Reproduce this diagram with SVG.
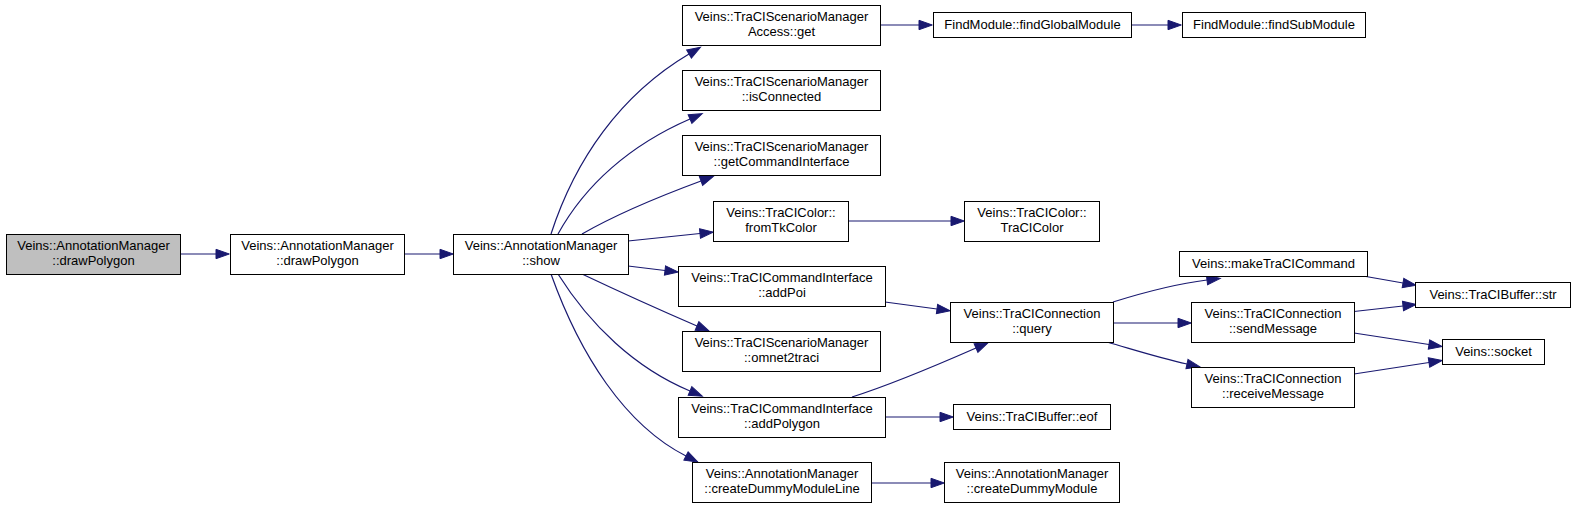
<svg xmlns="http://www.w3.org/2000/svg" width="1576" height="508" viewBox="0 0 1576 508">
<style>
.n rect{fill:#fff;stroke:#000;stroke-width:1}
.n.s rect{fill:#bfbfbf}
.n text{font-family:"Liberation Sans",Arial,sans-serif;font-size:13px;fill:#000;text-anchor:middle}
.e path{fill:none;stroke:#191970;stroke-width:1.2}
</style>
<defs>
<marker id="ah" markerUnits="userSpaceOnUse" markerWidth="14" markerHeight="10" refX="0" refY="4.7" orient="auto" overflow="visible">
<polygon points="0,0 13.3,4.7 0,9.4" fill="#191970" stroke="#191970" stroke-width="1"/>
</marker>
</defs>
<rect width="1576" height="508" fill="#fff"/>
<g id="edges" class="e">
<path marker-end="url(#ah)" d="M180,254 L216,254"/>
<path marker-end="url(#ah)" d="M404,254 L440,254"/>
<path marker-end="url(#ah)" d="M551,234 C575,160 620,95 689,54"/>
<path marker-end="url(#ah)" d="M558,234 C585,185 630,145 690,119"/>
<path marker-end="url(#ah)" d="M582,234 C615,215 655,198 701,181"/>
<path marker-end="url(#ah)" d="M628,241 L700,233.5"/>
<path marker-end="url(#ah)" d="M628,266 L665,270.5"/>
<path marker-end="url(#ah)" d="M582,274 C620,292 660,310 697,326"/>
<path marker-end="url(#ah)" d="M558,274 C590,325 635,368 690,391"/>
<path marker-end="url(#ah)" d="M551,274 C580,355 625,425 686,456"/>
<path marker-end="url(#ah)" d="M880,25 L919,25"/>
<path marker-end="url(#ah)" d="M1131,25 L1168,25"/>
<path marker-end="url(#ah)" d="M848,221 L951,221"/>
<path marker-end="url(#ah)" d="M885,302 L937,309"/>
<path marker-end="url(#ah)" d="M852,397 C890,385 935,366 976,348"/>
<path marker-end="url(#ah)" d="M885,417 L940,417"/>
<path marker-end="url(#ah)" d="M871,483 L931,483"/>
<path marker-end="url(#ah)" d="M1113,302 C1145,292 1175,284 1207,280"/>
<path marker-end="url(#ah)" d="M1113,323 L1178,323"/>
<path marker-end="url(#ah)" d="M1107,342 C1135,350 1160,358 1187,364"/>
<path marker-end="url(#ah)" d="M1366,276.5 L1403,283"/>
<path marker-end="url(#ah)" d="M1354,311.5 L1403,306"/>
<path marker-end="url(#ah)" d="M1354,333 L1429,344.5"/>
<path marker-end="url(#ah)" d="M1354,374 L1429,362.5"/>
</g>
<g id="node_start" class="n s"><rect x="6.5" y="234.5" width="174" height="40"/><text x="93.5" y="250">Veins::AnnotationManager</text><text x="93.5" y="265">::drawPolygon</text></g>
<g id="node_drawPolygon" class="n"><rect x="230.5" y="234.5" width="174" height="40"/><text x="317.5" y="250">Veins::AnnotationManager</text><text x="317.5" y="265">::drawPolygon</text></g>
<g id="node_show" class="n"><rect x="453.5" y="234.5" width="175" height="40"/><text x="541" y="250">Veins::AnnotationManager</text><text x="541" y="265">::show</text></g>
<g id="node_get" class="n"><rect x="682.5" y="5.5" width="198" height="40"/><text x="781.5" y="21">Veins::TraCIScenarioManager</text><text x="781.5" y="36">Access::get</text></g>
<g id="node_isConnected" class="n"><rect x="682.5" y="70.5" width="198" height="40"/><text x="781.5" y="86">Veins::TraCIScenarioManager</text><text x="781.5" y="101">::isConnected</text></g>
<g id="node_getCommandInterface" class="n"><rect x="682.5" y="135.5" width="198" height="40"/><text x="781.5" y="151">Veins::TraCIScenarioManager</text><text x="781.5" y="166">::getCommandInterface</text></g>
<g id="node_fromTkColor" class="n"><rect x="713.5" y="201.5" width="135" height="40"/><text x="781" y="217">Veins::TraCIColor::</text><text x="781" y="232">fromTkColor</text></g>
<g id="node_addPoi" class="n"><rect x="678.5" y="266.5" width="207" height="40"/><text x="782" y="282">Veins::TraCICommandInterface</text><text x="782" y="297">::addPoi</text></g>
<g id="node_omnet2traci" class="n"><rect x="682.5" y="331.5" width="198" height="40"/><text x="781.5" y="347">Veins::TraCIScenarioManager</text><text x="781.5" y="362">::omnet2traci</text></g>
<g id="node_addPolygon" class="n"><rect x="678.5" y="397.5" width="207" height="40"/><text x="782" y="413">Veins::TraCICommandInterface</text><text x="782" y="428">::addPolygon</text></g>
<g id="node_createDummyModuleLine" class="n"><rect x="692.5" y="462.5" width="179" height="40"/><text x="782" y="478">Veins::AnnotationManager</text><text x="782" y="493">::createDummyModuleLine</text></g>
<g id="node_findGlobalModule" class="n"><rect x="933.5" y="12.5" width="198" height="25"/><text x="1032.5" y="29">FindModule::findGlobalModule</text></g>
<g id="node_findSubModule" class="n"><rect x="1182.5" y="12.5" width="183" height="25"/><text x="1274" y="29">FindModule::findSubModule</text></g>
<g id="node_TraCIColor" class="n"><rect x="964.5" y="201.5" width="135" height="40"/><text x="1032" y="217">Veins::TraCIColor::</text><text x="1032" y="232">TraCIColor</text></g>
<g id="node_query" class="n"><rect x="950.5" y="302.5" width="163" height="40"/><text x="1032" y="318">Veins::TraCIConnection</text><text x="1032" y="333">::query</text></g>
<g id="node_eof" class="n"><rect x="953.5" y="404.5" width="157" height="25"/><text x="1032" y="421">Veins::TraCIBuffer::eof</text></g>
<g id="node_createDummyModule" class="n"><rect x="944.5" y="462.5" width="175" height="40"/><text x="1032" y="478">Veins::AnnotationManager</text><text x="1032" y="493">::createDummyModule</text></g>
<g id="node_makeTraCICommand" class="n"><rect x="1179.5" y="251.5" width="188" height="25"/><text x="1273.5" y="268">Veins::makeTraCICommand</text></g>
<g id="node_sendMessage" class="n"><rect x="1191.5" y="302.5" width="163" height="40"/><text x="1273" y="318">Veins::TraCIConnection</text><text x="1273" y="333">::sendMessage</text></g>
<g id="node_receiveMessage" class="n"><rect x="1191.5" y="367.5" width="163" height="40"/><text x="1273" y="383">Veins::TraCIConnection</text><text x="1273" y="398">::receiveMessage</text></g>
<g id="node_str" class="n"><rect x="1415.5" y="282.5" width="155" height="25"/><text x="1493" y="299">Veins::TraCIBuffer::str</text></g>
<g id="node_socket" class="n"><rect x="1442.5" y="339.5" width="102" height="25"/><text x="1493.5" y="356">Veins::socket</text></g>
</svg>
